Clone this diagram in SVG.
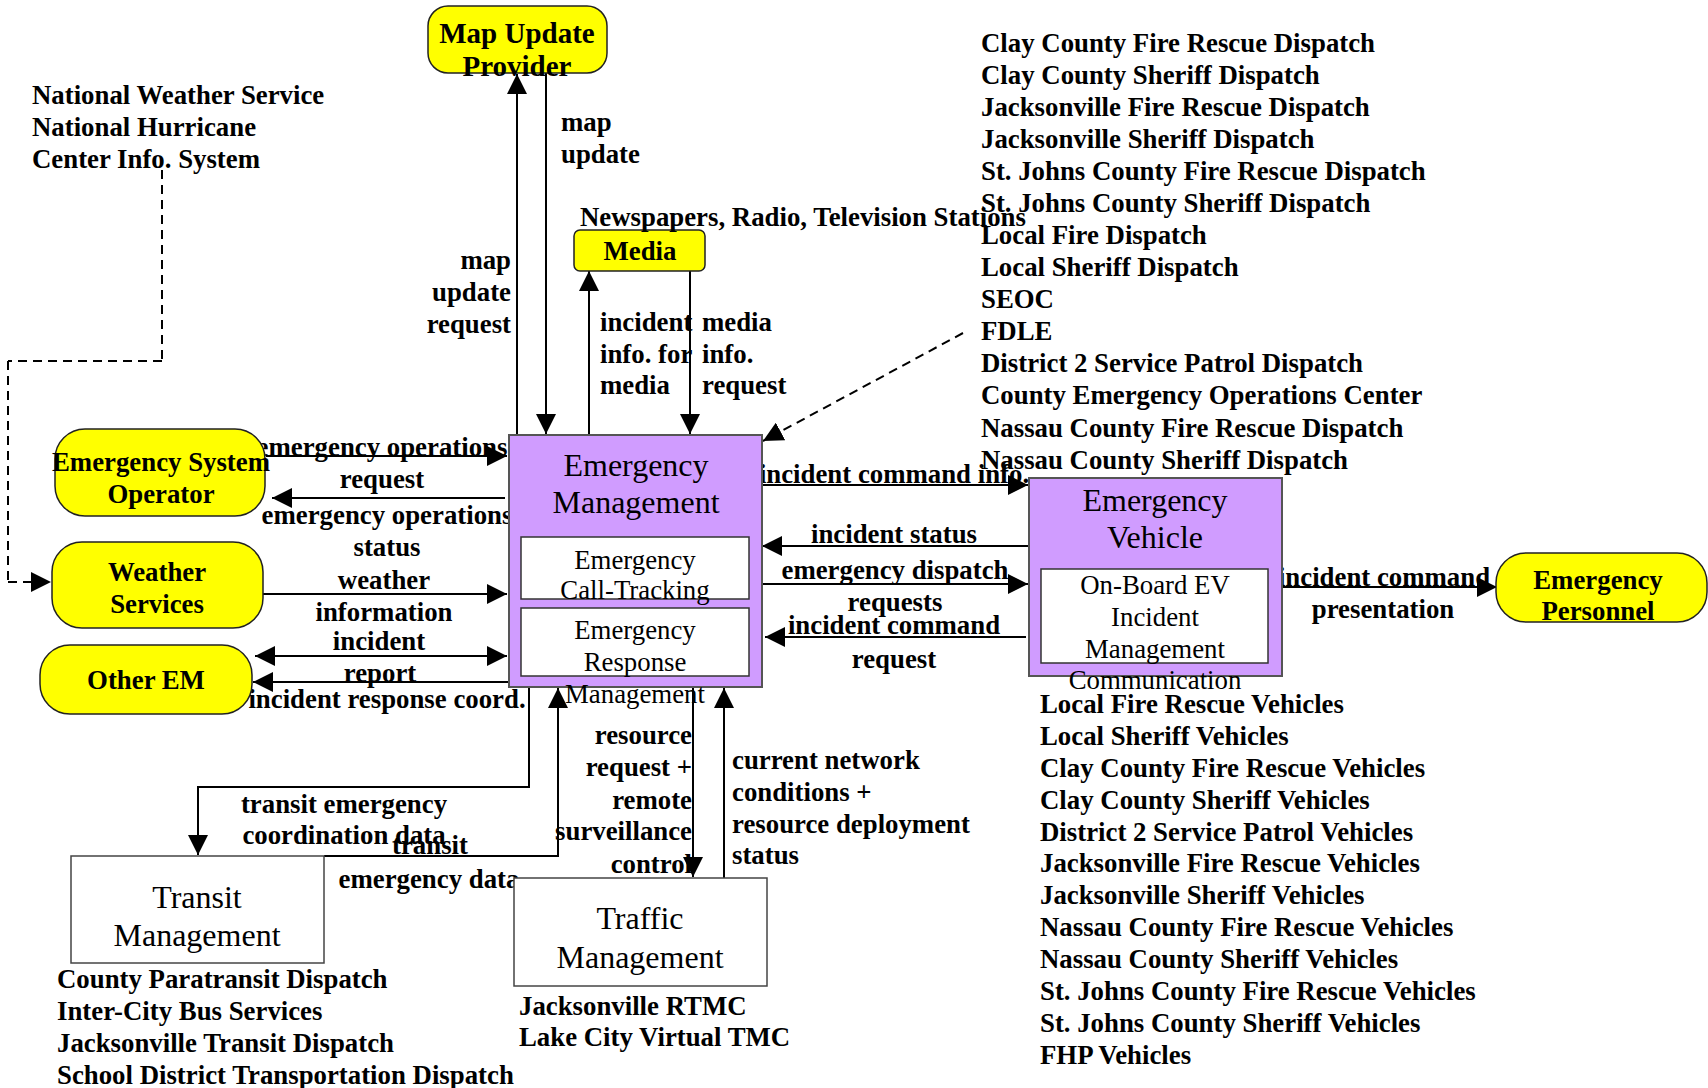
<svg xmlns="http://www.w3.org/2000/svg" width="1708" height="1088" viewBox="0 0 1708 1088">
  <defs>
    <marker id="arrow" markerUnits="userSpaceOnUse" markerWidth="20" markerHeight="20" refX="20" refY="10" orient="auto-start-reverse">
      <path d="M0,0 L20,10 L0,20 z" fill="#000"/>
    </marker>
    <style>
      .lbl { font-family: "Liberation Serif", "Times New Roman", serif; font-weight: bold; font-size: 26.8px; fill: #000; }
      .mid { text-anchor: middle; }
      .end { text-anchor: end; }
      .ttl { font-family: "Liberation Serif", "Times New Roman", serif; font-size: 32px; fill: #000; text-anchor: middle; }
      .sub { font-family: "Liberation Serif", "Times New Roman", serif; font-size: 26.8px; fill: #000; text-anchor: middle; }
      .term { fill: #FFFF00; stroke: #222; stroke-width: 1.5; }
      .sys { fill: #D09CFF; stroke: #555; stroke-width: 2; }
      .inner { fill: #FFF; stroke: #333; stroke-width: 1.5; }
      .plain { fill: #FFF; stroke: #444; stroke-width: 1.5; }
      .flow { fill: none; stroke: #000; stroke-width: 2; }
      .dash { fill: none; stroke: #000; stroke-width: 2; stroke-dasharray: 9 6; }
    </style>
  </defs>

  <!-- connectors -->
  <g id="connectors">
    <!-- map update provider -->
    <line class="flow" x1="517" y1="435" x2="517" y2="74" marker-end="url(#arrow)"/>
    <line class="flow" x1="546" y1="73" x2="546" y2="434" marker-end="url(#arrow)"/>
    <!-- media -->
    <line class="flow" x1="589" y1="435" x2="589" y2="271" marker-end="url(#arrow)"/>
    <line class="flow" x1="690" y1="271" x2="690" y2="434" marker-end="url(#arrow)"/>
    <!-- emergency system operator -->
    <line class="flow" x1="266" y1="456" x2="507" y2="456" marker-end="url(#arrow)"/>
    <line class="flow" x1="505" y1="498" x2="272" y2="498" marker-end="url(#arrow)"/>
    <!-- weather services -->
    <line class="flow" x1="263" y1="594" x2="507" y2="594" marker-end="url(#arrow)"/>
    <line class="dash" x1="162" y1="170" x2="162" y2="361"/>
    <line class="dash" x1="162" y1="361" x2="8" y2="361"/>
    <line class="dash" x1="8" y1="361" x2="8" y2="582"/>
    <line class="dash" x1="8" y1="582" x2="51" y2="582" marker-end="url(#arrow)"/>
    <!-- other EM -->
    <line class="flow" x1="255" y1="656" x2="507" y2="656" marker-start="url(#arrow)" marker-end="url(#arrow)"/>
    <line class="flow" x1="509" y1="682" x2="253" y2="682" marker-end="url(#arrow)"/>
    <!-- dispatch centers -->
    <line class="dash" x1="963" y1="333" x2="763" y2="441" marker-end="url(#arrow)"/>
    <!-- emergency vehicle -->
    <line class="flow" x1="762" y1="485" x2="1028" y2="485" marker-end="url(#arrow)"/>
    <line class="flow" x1="1029" y1="546" x2="762" y2="546" marker-end="url(#arrow)"/>
    <line class="flow" x1="762" y1="584" x2="1028" y2="584" marker-end="url(#arrow)"/>
    <line class="flow" x1="1026" y1="637" x2="765" y2="637" marker-end="url(#arrow)"/>
    <!-- emergency personnel -->
    <line class="flow" x1="1282" y1="587" x2="1497" y2="587" marker-end="url(#arrow)"/>
    <!-- transit management -->
    <polyline class="flow" points="529,687 529,787 198,787 198,855" marker-end="url(#arrow)"/>
    <polyline class="flow" points="324,856 558,856 558,688" marker-end="url(#arrow)"/>
    <!-- traffic management -->
    <line class="flow" x1="693" y1="687" x2="693" y2="877" marker-end="url(#arrow)"/>
    <line class="flow" x1="724" y1="878" x2="724" y2="688" marker-end="url(#arrow)"/>
  </g>

  <!-- flow labels -->
  <g id="flow-labels" class="lbl">
    <text x="561" y="131">map</text>
    <text x="561" y="163">update</text>
    <text class="end" x="511" y="269">map</text>
    <text class="end" x="511" y="301">update</text>
    <text class="end" x="511" y="333">request</text>
    <text x="600" y="331">incident</text>
    <text x="600" y="363">info. for</text>
    <text x="600" y="394">media</text>
    <text x="702" y="331">media</text>
    <text x="702" y="363">info.</text>
    <text x="702" y="394">request</text>

    <text class="mid" x="382" y="456">emergency operations</text>
    <text class="mid" x="382" y="488">request</text>
    <text class="mid" x="387" y="524">emergency operations</text>
    <text class="mid" x="387" y="556">status</text>
    <text class="mid" x="384" y="589">weather</text>
    <text class="mid" x="384" y="621">information</text>
    <text class="mid" x="379" y="650">incident</text>
    <text class="mid" x="380" y="682">report</text>
    <text class="mid" x="387" y="708">incident response coord.</text>

    <text class="mid" x="894" y="483">incident command info.</text>
    <text class="mid" x="894" y="543">incident status</text>
    <text class="mid" x="895" y="579">emergency dispatch</text>
    <text class="mid" x="895" y="611">requests</text>
    <text class="mid" x="894" y="634">incident command</text>
    <text class="mid" x="894" y="668">request</text>

    <text class="mid" x="1384" y="586">incident command</text>
    <text class="mid" x="1383" y="618">presentation</text>

    <text class="mid" x="344" y="813">transit emergency</text>
    <text class="mid" x="344" y="844">coordination data</text>
    <text class="mid" x="430" y="854">transit</text>
    <text class="mid" x="429" y="888">emergency data</text>

    <text class="end" x="692" y="744">resource</text>
    <text class="end" x="692" y="776">request +</text>
    <text class="end" x="692" y="809">remote</text>
    <text class="end" x="692" y="840">surveillance</text>
    <text class="end" x="692" y="873">control</text>
    <text x="732" y="769">current network</text>
    <text x="732" y="801">conditions +</text>
    <text x="732" y="833">resource deployment</text>
    <text x="732" y="864">status</text>
  </g>

  <!-- terminators -->
  <g id="map-update-provider">
    <rect class="term" x="428" y="6" width="179" height="67" rx="20"/>
    <text class="lbl mid" x="517" y="43" style="font-size:29px">Map Update</text>
    <text class="lbl mid" x="517" y="76" style="font-size:29px">Provider</text>
  </g>
  <g id="media">
    <rect class="term" x="574" y="230" width="131" height="41" rx="6"/>
    <text class="lbl mid" x="640" y="260">Media</text>
    <text class="lbl" x="580" y="226">Newspapers, Radio, Television Stations</text>
  </g>
  <g id="emergency-system-operator">
    <rect class="term" x="55" y="429" width="210" height="87" rx="30"/>
    <text class="lbl mid" x="161" y="471">Emergency System</text>
    <text class="lbl mid" x="161" y="503">Operator</text>
  </g>
  <g id="weather-services">
    <rect class="term" x="52" y="542" width="211" height="86" rx="30"/>
    <text class="lbl mid" x="157" y="581">Weather</text>
    <text class="lbl mid" x="157" y="613">Services</text>
    <text class="lbl" x="32" y="104">National Weather Service</text>
    <text class="lbl" x="32" y="136">National Hurricane</text>
    <text class="lbl" x="32" y="168">Center Info. System</text>
  </g>
  <g id="other-em">
    <rect class="term" x="40" y="645" width="212" height="69" rx="30"/>
    <text class="lbl mid" x="146" y="689">Other EM</text>
  </g>
  <g id="emergency-personnel">
    <rect class="term" x="1496" y="553" width="211" height="69" rx="30"/>
    <text class="lbl mid" x="1598" y="589">Emergency</text>
    <text class="lbl mid" x="1598" y="620">Personnel</text>
  </g>

  <!-- subsystems -->
  <g id="emergency-management">
    <rect class="sys" x="509" y="435" width="253" height="252"/>
    <text class="ttl" x="636" y="476">Emergency</text>
    <text class="ttl" x="636" y="513">Management</text>
    <rect class="inner" x="521" y="537" width="228" height="62"/>
    <text class="sub" x="635" y="569">Emergency</text>
    <text class="sub" x="635" y="599">Call-Tracking</text>
    <rect class="inner" x="521" y="608" width="228" height="68"/>
    <text class="sub" x="635" y="639">Emergency</text>
    <text class="sub" x="635" y="671">Response</text>
    <text class="sub" x="635" y="703">Management</text>
    <g class="lbl">
      <text x="981" y="52">Clay County Fire Rescue Dispatch</text>
      <text x="981" y="84">Clay County Sheriff Dispatch</text>
      <text x="981" y="116">Jacksonville Fire Rescue Dispatch</text>
      <text x="981" y="148">Jacksonville Sheriff Dispatch</text>
      <text x="981" y="180">St. Johns County Fire Rescue Dispatch</text>
      <text x="981" y="212">St. Johns County Sheriff Dispatch</text>
      <text x="981" y="244">Local Fire Dispatch</text>
      <text x="981" y="276">Local Sheriff Dispatch</text>
      <text x="981" y="308">SEOC</text>
      <text x="981" y="340">FDLE</text>
      <text x="981" y="372">District 2 Service Patrol Dispatch</text>
      <text x="981" y="404">County Emergency Operations Center</text>
      <text x="981" y="437">Nassau County Fire Rescue Dispatch</text>
      <text x="981" y="469">Nassau County Sheriff Dispatch</text>
    </g>
  </g>
  <g id="emergency-vehicle">
    <rect class="sys" x="1029" y="478" width="253" height="198"/>
    <text class="ttl" x="1155" y="511">Emergency</text>
    <text class="ttl" x="1155" y="548">Vehicle</text>
    <rect class="inner" x="1041" y="569" width="227" height="94"/>
    <text class="sub" x="1155" y="594">On-Board EV</text>
    <text class="sub" x="1155" y="626">Incident</text>
    <text class="sub" x="1155" y="658">Management</text>
    <text class="sub" x="1155" y="689">Communication</text>
    <g class="lbl">
      <text x="1040" y="713">Local Fire Rescue Vehicles</text>
      <text x="1040" y="745">Local Sheriff Vehicles</text>
      <text x="1040" y="777">Clay County Fire Rescue Vehicles</text>
      <text x="1040" y="809">Clay County Sheriff Vehicles</text>
      <text x="1040" y="841">District 2 Service Patrol Vehicles</text>
      <text x="1040" y="872">Jacksonville Fire Rescue Vehicles</text>
      <text x="1040" y="904">Jacksonville Sheriff Vehicles</text>
      <text x="1040" y="936">Nassau County Fire Rescue Vehicles</text>
      <text x="1040" y="968">Nassau County Sheriff Vehicles</text>
      <text x="1040" y="1000">St. Johns County Fire Rescue Vehicles</text>
      <text x="1040" y="1032">St. Johns County Sheriff Vehicles</text>
      <text x="1040" y="1064">FHP Vehicles</text>
    </g>
  </g>
  <g id="transit-management">
    <rect class="plain" x="71" y="856" width="253" height="107"/>
    <text class="ttl" x="197" y="908">Transit</text>
    <text class="ttl" x="197" y="946">Management</text>
    <g class="lbl">
      <text x="57" y="988">County Paratransit Dispatch</text>
      <text x="57" y="1020">Inter-City Bus Services</text>
      <text x="57" y="1052">Jacksonville Transit Dispatch</text>
      <text x="57" y="1084">School District Transportation Dispatch</text>
    </g>
  </g>
  <g id="traffic-management">
    <rect class="plain" x="514" y="878" width="253" height="108"/>
    <text class="ttl" x="640" y="929">Traffic</text>
    <text class="ttl" x="640" y="968">Management</text>
    <g class="lbl">
      <text x="519" y="1015">Jacksonville RTMC</text>
      <text x="519" y="1046">Lake City Virtual TMC</text>
    </g>
  </g>
</svg>
